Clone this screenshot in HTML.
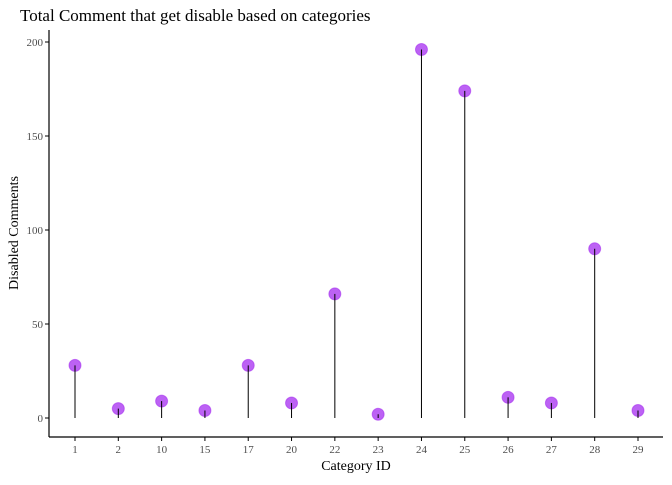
<!DOCTYPE html>
<html><head><meta charset="utf-8"><style>
body{margin:0;background:#fff;}
text{font-family:"Liberation Serif",serif;}
</style></head><body>
<svg id="chart" width="672" height="480" xmlns="http://www.w3.org/2000/svg">
<text x="20" y="21" font-size="17" fill="#000">Total Comment that get disable based on categories</text>
<g id="plot"></g>
</svg>
<script>
const categories=["1","2","10","15","17","20","22","23","24","25","26","27","28","29"];
const values=[28,5,9,4,28,8,66,2,196,174,11,8,90,4];
const yTicks=[0,50,100,150,200];
const svg=document.getElementById('plot');
const NS='http://www.w3.org/2000/svg';
const L=49,R=663,T=30,B=437;
const y=v=>418-v*1.88;
const x=i=>75+i*(638-75)/(categories.length-1);
function mk(t,a){const e=document.createElementNS(NS,t);for(const k in a)e.setAttribute(k,a[k]);svg.appendChild(e);return e;}
let e;
e=mk('line',{x1:L,y1:T,x2:L,y2:B,stroke:'#000','stroke-width':1.2});


e=mk('line',{x1:L,y1:B,x2:R,y2:B,stroke:'#000','stroke-width':1.2});


yTicks.forEach(v=>{
 e=mk('line',{x1:L-4,y1:y(v),x2:L,y2:y(v),stroke:'#000'});
 
 
 e=mk('text',{x:L-6,y:y(v)+4,'text-anchor':'end','font-size':11,fill:'#4d4d4d'});
 e.textContent=v;
 
 
});
categories.forEach((c,i)=>{
 e=mk('line',{x1:x(i),y1:B,x2:x(i),y2:B+4,stroke:'#000'});
 
 
 e=mk('text',{x:x(i),y:B+16,'text-anchor':'middle','font-size':11,fill:'#4d4d4d'});
 e.textContent=c;
 
 
 e=mk('circle',{cx:x(i),cy:y(values[i]),r:6,fill:'#a020f0','fill-opacity':0.7,stroke:'#a020f0','stroke-opacity':0.5});
 
 
 e=mk('line',{x1:x(i),y1:y(0),x2:x(i),y2:y(values[i]),stroke:'#000','stroke-width':1});
 
 
});
e=mk('text',{x:(L+R)/2,y:470,'text-anchor':'middle','font-size':14,fill:'#000'});
e.textContent='Category ID';


e=mk('text',{x:0,y:0,'text-anchor':'middle','font-size':14,fill:'#000',transform:'translate(18,233) rotate(-90)'});
e.textContent='Disabled Comments';


</script>
</body></html>
